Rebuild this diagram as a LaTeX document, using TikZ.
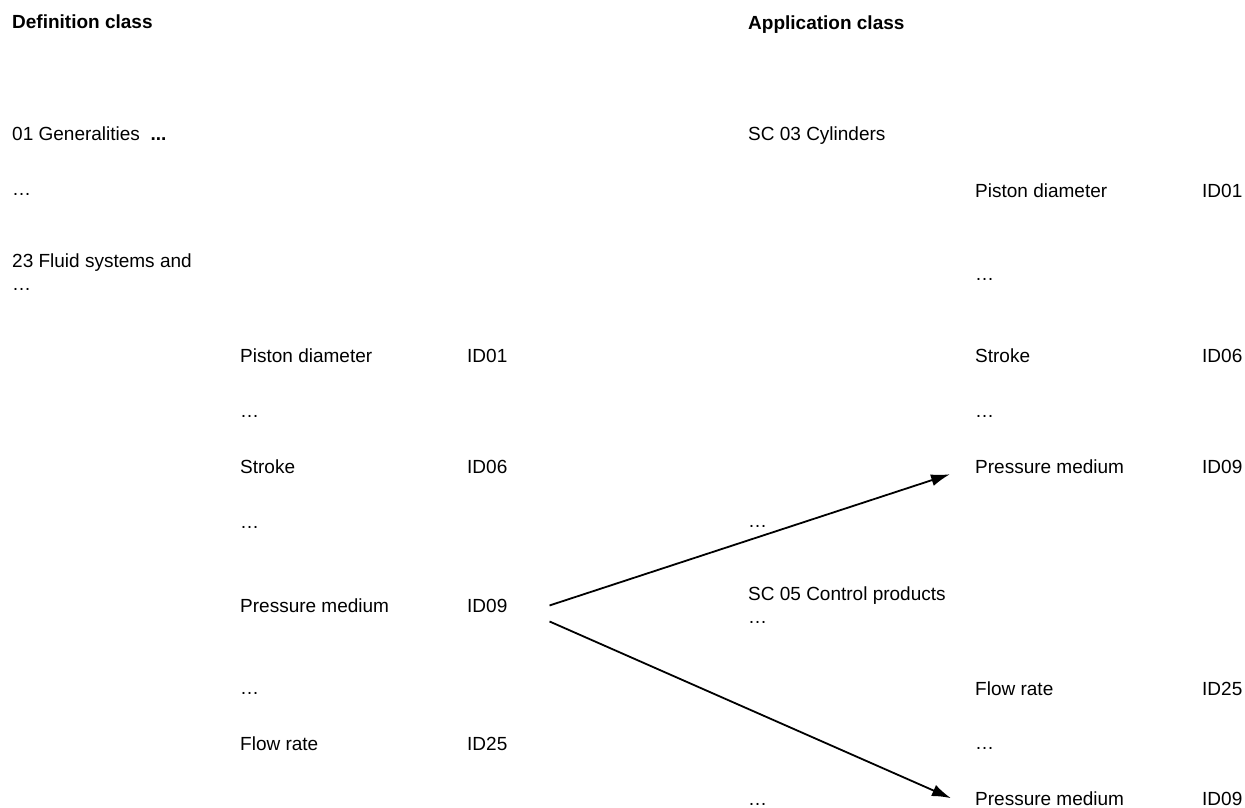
\documentclass[tikz,border=0pt]{standalone}
\usepackage{fontspec}
\setmainfont{Liberation Sans}
\usetikzlibrary{arrows.meta}

\begin{document}
\begin{tikzpicture}[x=1pt, y=-1pt,
    txt/.style={anchor=base west, inner sep=0pt, font=\fontsize{19}{22}\selectfont},
    head/.style={txt, font=\fontsize{19}{22}\selectfont\bfseries},
    link/.style={line width=1.8pt, -{Latex[length=19pt, width=12pt]}}]

    \useasboundingbox (0, 0) rectangle (1245, 808);

    % Declare the headings
    \node[head] at (12, 29) (hdef) {Definition class};
    \node[head] at (748, 30) (happ) {Application class};

    % Declare the definition classes
    \node[txt] at (12, 140) (gen) {01 Generalities\ \ \textbf{...}};
    \node[txt] at (12, 195) (gdots) {…};
    \node[txt] at (12, 267) (fluid) {23 Fluid systems and};
    \node[txt] at (12, 290) (fdots) {…};

    % Declare the left properties
    \node[txt] at (240, 362) (lpd) {Piston diameter};
    \node[txt] at (240, 417) (ld1) {…};
    \node[txt] at (240, 473) (lst) {Stroke};
    \node[txt] at (240, 528) (ld2) {…};
    \node[txt] at (240, 612) (lpm) {Pressure medium};
    \node[txt] at (240, 694) (ld3) {…};
    \node[txt] at (240, 750) (lfr) {Flow rate};
    \node[txt] at (467, 362) (lid01) {ID01};
    \node[txt] at (467, 473) (lid06) {ID06};
    \node[txt] at (467, 612) (lid09) {ID09};
    \node[txt] at (467, 750) (lid25) {ID25};

    % Declare the application classes
    \node[txt] at (748, 140) (cyl) {SC 03 Cylinders};
    \node[txt] at (748, 527) (cd1) {…};
    \node[txt] at (748, 600) (ctrl) {SC 05 Control products};
    \node[txt] at (748, 623) (cd2) {…};
    \node[txt] at (748, 805) (cd3) {…};

    % Declare the right properties
    \node[txt] at (975, 197) (rpd) {Piston diameter};
    \node[txt] at (975, 280) (rd1) {…};
    \node[txt] at (975, 362) (rst) {Stroke};
    \node[txt] at (975, 417) (rd2) {…};
    \node[txt] at (975, 473) (rpm1) {Pressure medium};
    \node[txt] at (975, 695) (rfr) {Flow rate};
    \node[txt] at (975, 749) (rd3) {…};
    \node[txt] at (975, 805) (rpm2) {Pressure medium};
    \node[txt] at (1202, 197) (rid01) {ID01};
    \node[txt] at (1202, 362) (rid06) {ID06};
    \node[txt] at (1202, 473) (rid09a) {ID09};
    \node[txt] at (1202, 695) (rid25) {ID25};
    \node[txt] at (1202, 805) (rid09b) {ID09};

    % Declare edges
    \draw[link] ([xshift=42pt]lid09.east) -- ([xshift=-25pt, yshift=-8pt]rpm1.west);
    \draw[link] ([xshift=42pt, yshift=-16pt]lid09.east) -- ([xshift=-24pt]rpm2.west);

\end{tikzpicture}
\end{document}
